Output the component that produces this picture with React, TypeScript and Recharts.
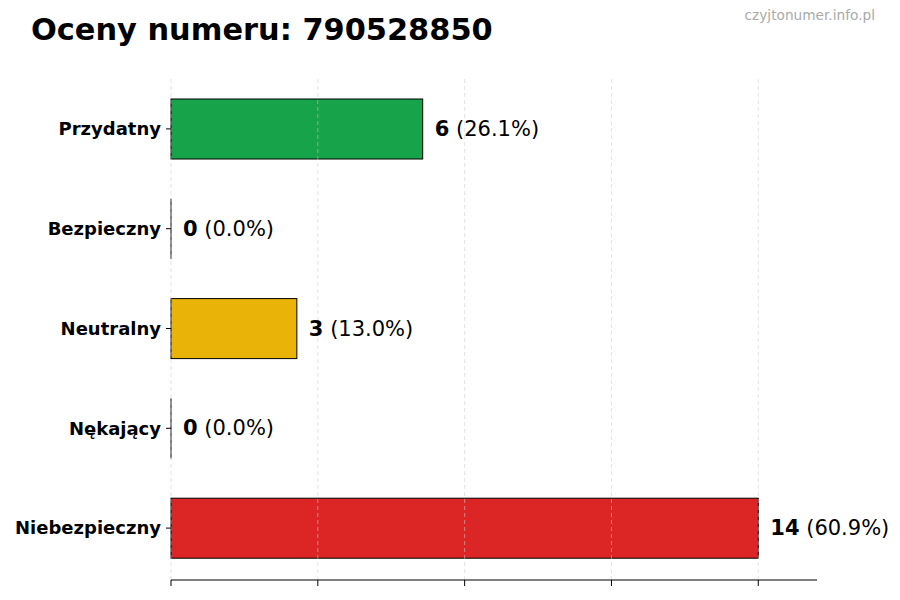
import React from 'react';
import { BarChart, Bar, XAxis, YAxis, ReferenceLine, Cell, LabelList } from 'recharts';

const categories = ['Przydatny', 'Bezpieczny', 'Neutralny', 'Nękający', 'Niebezpieczny'];
const counts = [6, 0, 3, 0, 14];
const colors = ['#16a34a', '#22c55e', '#eab308', '#f97316', '#dc2626'];
const xTicks = [0, 3.5, 7, 10.5, 14];

const total = counts.reduce((a, b) => a + b, 0);
const data = categories.map((name, i) => ({ name, value: counts[i] }));

const FONT = '"DejaVu Sans", sans-serif';

function BarShape(props: any) {
  const { x, y, width, height, fill } = props;
  if (!width) {
    return <line x1={x} x2={x} y1={y} y2={y + height} stroke="#000" strokeWidth={1} />;
  }
  return <rect x={x} y={y} width={width} height={height} fill={fill} stroke="#000" strokeWidth={1} />;
}

function ValueLabel(props: any) {
  const { x, y, width, height, value } = props;
  const pct = total ? ((value / total) * 100).toFixed(1) : '0.0';
  return (
    <text x={x + width + 12} y={y + height / 2} dominantBaseline="central" fontFamily={FONT} fontSize={21} fill="#000">
      <tspan fontWeight="bold">{value}</tspan>
      <tspan> ({pct}%)</tspan>
    </text>
  );
}

export default function App() {
  return (
    <div style={{ position: 'absolute', left: 0, top: 0, width: 900, height: 600, background: '#fff', fontFamily: FONT }}>
      <div style={{ position: 'absolute', left: 31, top: 15, fontSize: 30.4, fontWeight: 'bold', lineHeight: 1, color: '#000', whiteSpace: 'nowrap' }}>
        Oceny numeru: 790528850
      </div>
      <div style={{ position: 'absolute', right: 25, top: 9, fontSize: 13.7, lineHeight: 1, color: '#aaa' }}>
        czyjtonumer.info.pl
      </div>
      <BarChart
        width={900}
        height={600}
        data={data}
        layout="vertical"
        margin={{ top: 76, right: 83, left: 0, bottom: 0 }}
      >
        <XAxis
          type="number"
          domain={[0, 15.4]}
          ticks={xTicks}
          height={20}
          tickSize={6}
          tickFormatter={() => ''}
          axisLine={{ stroke: '#000' }}
          tickLine={{ stroke: '#000' }}
        />
        <YAxis
          type="category"
          dataKey="name"
          width={171}
          padding={{ top: 3, bottom: 2 }}
          axisLine={false}
          tickSize={5}
          tickMargin={5}
          tickLine={{ stroke: '#000' }}
          tick={{ fontFamily: FONT, fontSize: 18, fontWeight: 'bold', fill: '#000' }}
        />
        <Bar dataKey="value" barSize={60} isAnimationActive={false} shape={<BarShape />}>
          {data.map((d, i) => (
            <Cell key={d.name} fill={colors[i]} />
          ))}
          <LabelList dataKey="value" content={<ValueLabel />} />
        </Bar>
        {xTicks.map((t) => (
          <ReferenceLine key={t} x={t} stroke="#cccccc" strokeOpacity={0.55} strokeDasharray="4 3" />
        ))}
      </BarChart>
    </div>
  );
}
